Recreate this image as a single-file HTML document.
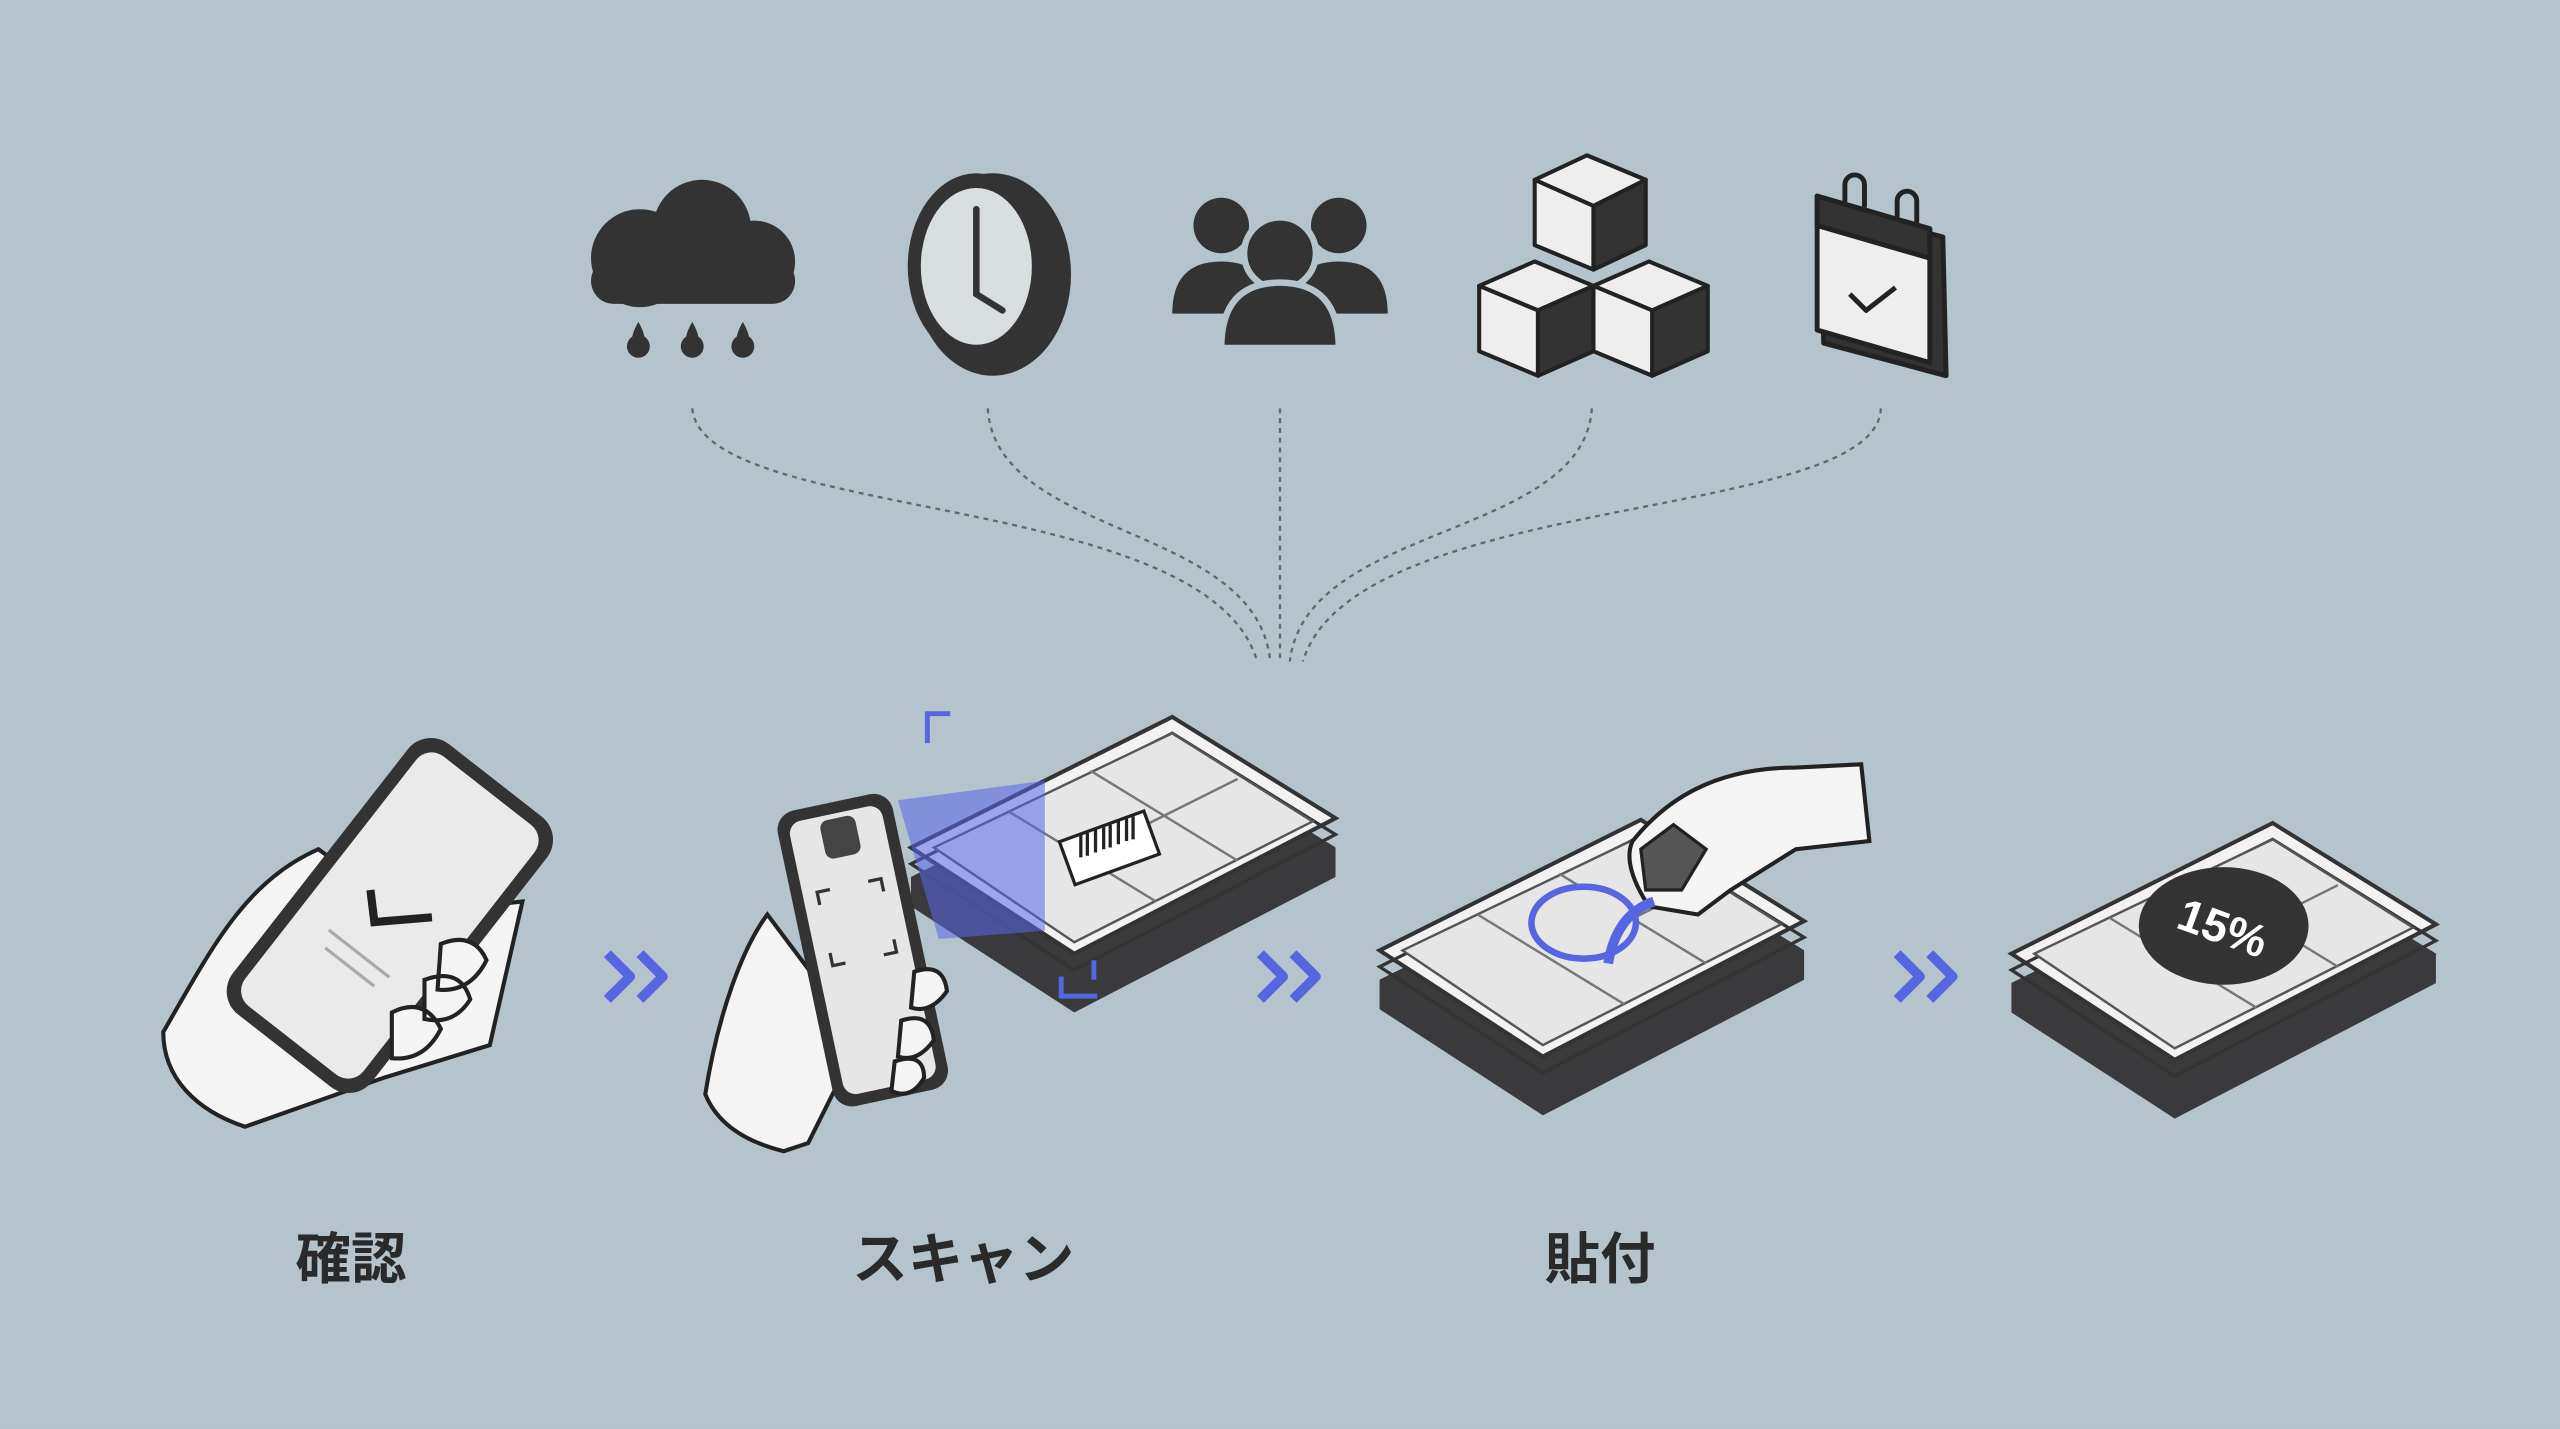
<!DOCTYPE html>
<html><head><meta charset="utf-8"><style>
html,body{margin:0;padding:0;background:#b4c3cc;}
svg{display:block}
text{font-family:"Liberation Sans","Noto Sans CJK JP",sans-serif;font-weight:bold;fill:#2a2a2a}
</style></head><body>
<svg width="2560" height="1429" viewBox="0 0 1568 875" xmlns="http://www.w3.org/2000/svg">
<defs>
<g id="tray">
  <polygon points="0,80 160,0 260,62 100,145" fill="#3a3a3c"/>
  <polygon points="0,80 160,0 260,62 260,80 100,163 0,98" fill="#3a3a3c"/>
  <polygon points="0,62 160,-18 260,44 100,127" fill="#f2f2f2" stroke="#333" stroke-width="2.5"/>
  <polygon points="0,72 160,-8 260,54 100,137" fill="none" stroke="#333" stroke-width="2"/>
  <polygon points="14,62 160,-8 246,46 100,120" fill="#e6e6e6" stroke="#555" stroke-width="1.5"/>
  <line x1="60" y1="40" x2="150" y2="95" stroke="#777" stroke-width="1.5"/>
  <line x1="110" y1="15" x2="200" y2="70" stroke="#777" stroke-width="1.5"/>
  <line x1="120" y1="60" x2="200" y2="20" stroke="#777" stroke-width="1.5"/>
</g>
</defs>
<rect width="1568" height="875" fill="#b4c3cc"/>

<!-- cloud -->
<g fill="#333">
  <circle cx="392" cy="158" r="30"/><circle cx="430" cy="140" r="30"/><circle cx="462" cy="160" r="25"/>
  <rect x="362" y="158" width="125" height="28" rx="14"/>
  <path d="M391,195 q-8,14 0,18 q8,-4 0,-18z M424,195 q-8,14 0,18 q8,-4 0,-18z M455,195 q-8,14 0,18 q8,-4 0,-18z" transform="translate(0,2)"/>
  <circle cx="391" cy="212" r="7"/><circle cx="424" cy="212" r="7"/><circle cx="455" cy="212" r="7"/>
</g>
<!-- clock -->
<ellipse cx="608" cy="168" rx="48" ry="62" fill="#333"/>
<ellipse cx="598" cy="163" rx="42" ry="57" fill="#333"/>
<ellipse cx="598" cy="163" rx="34" ry="48" fill="#d8dde0"/>
<path d="M598,128 V180 L614,190" stroke="#333" stroke-width="4" fill="none" stroke-linecap="round"/>
<!-- people -->
<g fill="#333">
  <circle cx="748" cy="138" r="17"/><circle cx="820" cy="138" r="17"/>
  <path d="M718,192 q0,-32 30,-32 q30,0 30,32z M790,192 q0,-32 30,-32 q30,0 30,32z"/>
  <circle cx="784" cy="155" r="22" stroke="#b4c3cc" stroke-width="4"/>
  <path d="M748,213 q0,-40 36,-40 q36,0 36,40z" stroke="#b4c3cc" stroke-width="4"/>
</g>
<!-- cubes -->
<g stroke="#222" stroke-width="2.5" stroke-linejoin="round">
  <polygon points="940,110 972,95 1008,110 976,126" fill="#eee"/>
  <polygon points="940,110 976,126 976,165 940,150" fill="#eee"/>
  <polygon points="976,126 1008,110 1008,150 976,165" fill="#333"/>
  <polygon points="906,175 940,160 976,175 942,190" fill="#eee"/>
  <polygon points="906,175 942,190 942,230 906,215" fill="#eee"/>
  <polygon points="942,190 976,175 976,215 942,230" fill="#333"/>
  <polygon points="976,175 1010,160 1046,175 1012,190" fill="#eee"/>
  <polygon points="976,175 1012,190 1012,230 976,215" fill="#eee"/>
  <polygon points="1012,190 1046,175 1046,215 1012,230" fill="#333"/>
</g>
<!-- calendar -->
<g stroke="#222" stroke-width="3" stroke-linejoin="round">
  <polygon points="1115,125 1190,145 1192,230 1117,210" fill="#333"/>
  <polygon points="1113,120 1182,140 1182,222 1113,202" fill="#eee"/>
  <polygon points="1113,120 1182,140 1182,158 1113,138" fill="#333"/>
  <path d="M1130,125 v-12 a6,6 0 0 1 12,0 v14 M1162,135 v-12 a6,6 0 0 1 12,0 v14" fill="none"/>
  <path d="M1133,180 l10,10 l18,-14" fill="none"/>
</g>
<!-- dashed connectors -->
<g stroke="#666" stroke-width="1.4" stroke-dasharray="3,3" fill="none">
  <path d="M424,250 C430,320 740,300 770,405"/>
  <path d="M605,250 C610,330 770,320 778,405"/>
  <path d="M784,250 V405"/>
  <path d="M975,250 C970,330 800,320 790,405"/>
  <path d="M1152,250 C1150,320 830,300 798,405"/>
</g>

<!-- step 1: phone in hand -->
<path d="M100,632 C130,580 150,540 195,520 L250,560 L320,552 L300,640 L235,660 L150,690 C120,680 100,660 100,632z" fill="#f4f4f4" stroke="#222" stroke-width="2.5"/>
<g transform="rotate(38 238 560)">
  <rect x="185" y="455" width="108" height="210" rx="18" fill="#333"/>
  <rect x="193" y="463" width="92" height="194" rx="12" fill="#eaeaea"/>
  <path d="M220,555 l14,14 l26,-24" stroke="#222" stroke-width="5" fill="none"/>
  <line x1="215" y1="590" x2="262" y2="590" stroke="#aaa" stroke-width="2"/>
  <line x1="220" y1="600" x2="258" y2="600" stroke="#aaa" stroke-width="2"/>
</g>
<path d="M270,578 q20,-8 28,10 q-10,20 -30,18z M240,620 q20,-10 30,10 q-10,20 -30,18z M260,600 q22,-8 28,12 q-10,16 -28,12z" fill="#f4f4f4" stroke="#222" stroke-width="2.5"/>

<!-- chevrons -->
<g stroke="#5566e0" stroke-width="6" fill="none" stroke-linejoin="round">
  <path d="M372,584 l14,14 l-14,14 M392,584 l14,14 l-14,14"/>
  <path d="M772,584 l14,14 l-14,14 M792,584 l14,14 l-14,14"/>
  <path d="M1162,584 l14,14 l-14,14 M1182,584 l14,14 l-14,14"/>
</g>

<!-- step 2: scan -->
<use href="#tray" transform="translate(558,457)"/>
<polygon points="550,490 640,478 640,570 575,575" fill="#5a66e8" opacity="0.55"/>
<rect x="652" y="505" width="55" height="28" fill="#fff" stroke="#222" stroke-width="2" transform="rotate(-20 680 519)"/>
<g stroke="#222" stroke-width="2"><path d="M662,525 v-14 M666,524 v-14 M671,522 v-14 M676,520 v-14 M680,519 v-14 M685,517 v-14 M690,515 v-14 M694,514 v-14"/></g>
<g stroke="#5566e0" stroke-width="3" fill="none">
  <path d="M568,455 v-18 h14 M650,598 v12 h22 M670,600 v-12"/>
</g>
<path d="M432,670 C440,620 455,580 470,560 L500,600 L520,650 L495,700 L480,705 C460,700 440,690 432,670z" fill="#f4f4f4" stroke="#222" stroke-width="2.5"/>
<g transform="rotate(-12 525 580)">
  <rect x="492" y="490" width="72" height="185" rx="12" fill="#333"/>
  <rect x="499" y="497" width="58" height="171" rx="8" fill="#e6e6e6"/>
  <rect x="518" y="500" width="22" height="24" rx="5" fill="#444"/>
  <path d="M508,550 v-8 h8 M548,550 v-8 h-8 M508,580 v8 h8 M548,580 v8 h-8" stroke="#333" stroke-width="2" fill="none"/>
</g>
<path d="M560,595 q18,-6 20,12 q-10,14 -22,10z M552,625 q18,-6 20,12 q-10,14 -22,10z M548,650 q18,-6 18,10 q-8,14 -20,8z" fill="#f4f4f4" stroke="#222" stroke-width="2.5"/>

<!-- step 3: tray with sticker and hand -->
<use href="#tray" transform="translate(845,520)"/>
<ellipse cx="970" cy="565" rx="32" ry="22" fill="#e6e6e6" stroke="#5566e0" stroke-width="4"/>
<path d="M1000,515 C1020,490 1050,470 1100,470 L1140,468 L1145,515 L1100,520 L1060,545 L1040,560 L1010,555 C1000,540 995,525 1000,515z" fill="#f4f4f4" stroke="#222" stroke-width="2.5"/>
<polygon points="1005,520 1025,505 1045,520 1030,545 1008,545" fill="#555" stroke="#222" stroke-width="2"/>
<path d="M985,590 q5,-30 28,-38" stroke="#5566e0" stroke-width="6" fill="none"/>

<!-- step 4: tray with 15% -->
<use href="#tray" transform="translate(1232,522)"/>
<ellipse cx="1362" cy="567" rx="52" ry="36" fill="#333"/>
<text x="1362" y="578" font-size="28" text-anchor="middle" fill="#fff" style="fill:#fff" transform="rotate(20 1362 567)">15%</text>

<!-- labels -->
<text x="215" y="783" font-size="34" text-anchor="middle">確認</text>
<text x="590" y="783" font-size="34" text-anchor="middle">スキャン</text>
<text x="980" y="783" font-size="34" text-anchor="middle">貼付</text>
</svg>
</body></html>
